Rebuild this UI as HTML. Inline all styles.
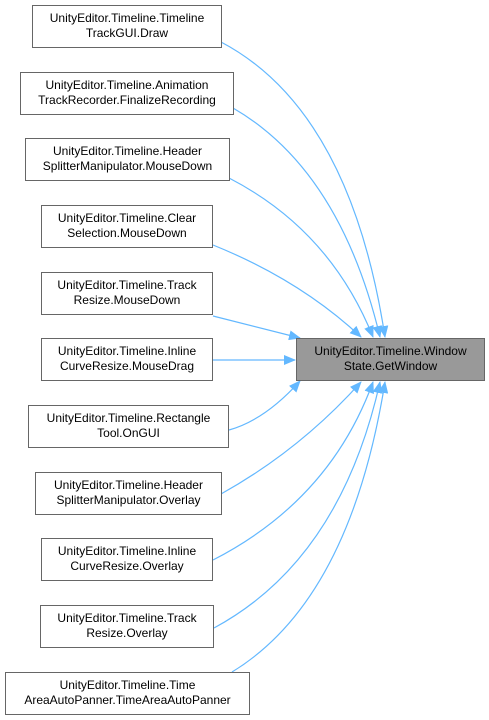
<!DOCTYPE html>
<html><head><style>
body{margin:0;background:#fff;width:489px;height:720px;position:relative;overflow:hidden;font-family:"Liberation Sans",Arial,sans-serif}
.b{position:absolute;box-sizing:border-box;border:1px solid #666;background:#fff;font-size:12px;line-height:15px;text-align:center;padding-top:5px;color:#000;height:43px}
svg{position:absolute;left:0;top:0}
</style></head><body>
<svg width="489" height="720">
<defs><marker id="a" markerWidth="12" markerHeight="10" refX="11" refY="5" orient="auto" markerUnits="userSpaceOnUse"><path d="M0,0 L12,5 L0,10 z" fill="#63b8ff"/></marker></defs>
<g fill="none" stroke="#63b8ff" stroke-width="1.2" marker-end="url(#a)">
<path d="M221,42 Q350,110 385,337"/>
<path d="M233,108 Q340,170 380,337"/>
<path d="M229,178 Q330,230 373,337"/>
<path d="M213,245 Q300,280 361,337"/>
<path d="M213,316 Q260,328 300,338"/>
<path d="M213,360 L295,360"/>
<path d="M229,430 Q265,420 300,381"/>
<path d="M221,494 Q300,450 361,382"/>
<path d="M213,560 Q330,500 373,382"/>
<path d="M214,628 Q340,560 380,382"/>
<path d="M232,672 Q350,600 385,382"/>
</g>
</svg>
<div class="b" style="left:32px;top:5px;width:190px">UnityEditor.Timeline.Timeline<br>TrackGUI.Draw</div>
<div class="b" style="left:20px;top:72px;width:214px">UnityEditor.Timeline.Animation<br>TrackRecorder.FinalizeRecording</div>
<div class="b" style="left:25px;top:138px;width:205px">UnityEditor.Timeline.Header<br>SplitterManipulator.MouseDown</div>
<div class="b" style="left:41px;top:205px;width:172px">UnityEditor.Timeline.Clear<br>Selection.MouseDown</div>
<div class="b" style="left:41px;top:272px;width:172px">UnityEditor.Timeline.Track<br>Resize.MouseDown</div>
<div class="b" style="left:41px;top:338px;width:172px">UnityEditor.Timeline.Inline<br>CurveResize.MouseDrag</div>
<div class="b" style="left:28px;top:405px;width:201px">UnityEditor.Timeline.Rectangle<br>Tool.OnGUI</div>
<div class="b" style="left:35px;top:472px;width:187px">UnityEditor.Timeline.Header<br>SplitterManipulator.Overlay</div>
<div class="b" style="left:41px;top:538px;width:172px">UnityEditor.Timeline.Inline<br>CurveResize.Overlay</div>
<div class="b" style="left:40px;top:605px;width:174px">UnityEditor.Timeline.Track<br>Resize.Overlay</div>
<div class="b" style="left:5px;top:672px;width:245px">UnityEditor.Timeline.Time<br>AreaAutoPanner.TimeAreaAutoPanner</div>
<div class="b" style="left:296px;top:338px;width:189px;background:#999;border-color:#666">UnityEditor.Timeline.Window<br>State.GetWindow</div>
</body></html>
